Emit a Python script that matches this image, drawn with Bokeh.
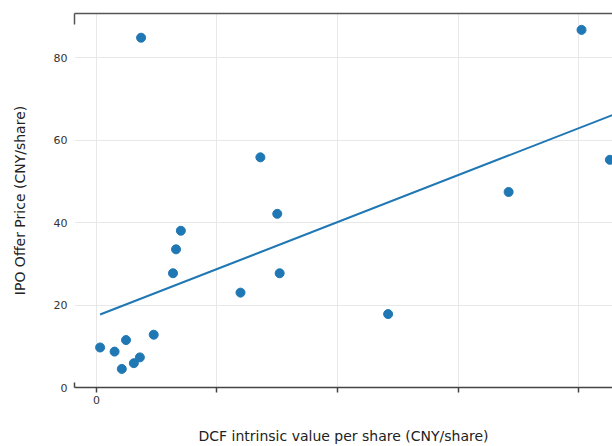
from bokeh.plotting import figure
from bokeh.models import Range1d, FixedTicker, LinearAxis
from bokeh.embed import file_html
from bokeh.resources import INLINE

# DCF intrinsic value per share (x) vs IPO offer price (y), CNY/share
dcf_value = [7.4, 80.5, 85.2, 68.4, 27.2, 30.0, 14.0, 13.2, 12.7, 30.4,
             23.9, 9.5, 0.6, 3.0, 4.9, 4.2, 6.2, 7.2, 48.4]
ipo_price = [84.8, 86.7, 55.2, 47.4, 55.8, 42.1, 38.0, 33.5, 27.7, 27.7,
             23.0, 12.8, 9.7, 8.7, 11.5, 4.5, 5.9, 7.3, 17.8]

# fitted trend line endpoints
trend_x = [0.6, 88.0]
trend_y = [17.7, 67.4]

x_ticks = [0, 20, 40, 60, 80]
x_tick_labels = {0: "0", 20: "", 40: "", 60: "", 80: ""}
y_ticks = [0, 20, 40, 60, 80]

X_START, X_END = -3.65, 85.64
Y_START, Y_END = 0, 90.67

BLUE = "#1f77b4"
FONT = "DejaVu Sans"

p = figure(width=612, height=446, output_backend="svg", toolbar_location=None,
           x_range=Range1d(X_START, X_END), y_range=Range1d(Y_START, Y_END),
           min_border_left=74, min_border_right=0, min_border_top=13,
           min_border_bottom=5, x_axis_location="below")
p.outline_line_color = None
p.background_fill_color = "white"
p.border_fill_color = "white"

# grid
p.xgrid.ticker = FixedTicker(ticks=x_ticks)
p.ygrid.ticker = FixedTicker(ticks=y_ticks)
for g in (p.xgrid, p.ygrid):
    g.grid_line_color = "#e8e8e8"
    g.grid_line_width = 1

# bottom axis
xa = p.xaxis[0]
xa.ticker = FixedTicker(ticks=x_ticks, minor_ticks=[X_START + 0.05])
xa.major_label_overrides = x_tick_labels
xa.axis_label = "DCF intrinsic value per share (CNY/share)"
xa.axis_label_text_font = FONT
xa.axis_label_text_font_size = "14px"
xa.axis_label_text_font_style = "normal"
xa.axis_label_text_color = "#222222"
xa.axis_label_standoff = 21
xa.major_label_text_font = FONT
xa.major_label_text_font_size = "11px"
xa.major_label_text_color = "#333333"
xa.major_label_standoff = 3
xa.axis_line_color = "#444444"
xa.axis_line_width = 1.5
xa.major_tick_line_color = "#444444"
xa.major_tick_line_width = 1.5
xa.major_tick_out = 5
xa.major_tick_in = 0
xa.minor_tick_line_color = "#444444"
xa.minor_tick_line_width = 1.5
xa.minor_tick_in = 5
xa.minor_tick_out = 0

# left axis
ya = p.yaxis[0]
ya.ticker = FixedTicker(ticks=y_ticks)
ya.axis_label = "IPO Offer Price (CNY/share)"
ya.axis_label_text_font = FONT
ya.axis_label_text_font_size = "14px"
ya.axis_label_text_font_style = "normal"
ya.axis_label_text_color = "#222222"
ya.axis_label_standoff = 23
ya.major_label_text_font = FONT
ya.major_label_text_font_size = "11px"
ya.major_label_text_color = "#333333"
ya.major_label_standoff = 7
ya.axis_line_color = None
ya.major_tick_line_color = None
ya.minor_tick_line_color = None
ya.major_tick_out = 0
ya.major_tick_in = 0
ya.minor_tick_out = 0
ya.minor_tick_in = 0

# top axis (frame line)
top = LinearAxis(ticker=FixedTicker(ticks=[], minor_ticks=[X_START + 0.05]),
                 major_label_text_font_size="0px", major_label_standoff=0,
                 axis_line_color="#555555", axis_line_width=1.5,
                 major_tick_out=0, major_tick_in=0,
                 minor_tick_in=11, minor_tick_out=0,
                 minor_tick_line_color="#555555", minor_tick_line_width=1.5)
p.add_layout(top, "above")

# trend line and points
p.line(trend_x, trend_y, line_color=BLUE, line_width=2)
p.scatter(dcf_value, ipo_price, size=9, fill_color=BLUE, line_color=BLUE)

open("out.html", "w").write(file_html(p, INLINE))
